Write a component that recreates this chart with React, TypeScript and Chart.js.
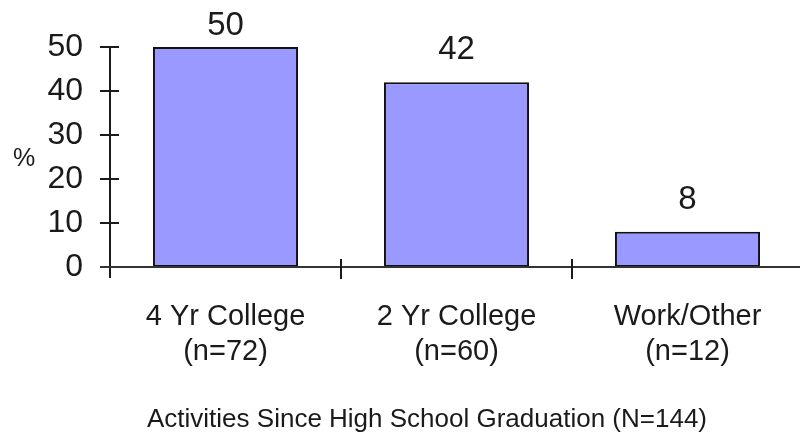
import React, { useEffect, useRef } from "react";
import { Chart, registerables } from "chart.js";

Chart.register(...registerables);

// Categories shown under the x axis (two lines each)
const categories: string[][] = [
  ["4 Yr College", "(n=72)"],
  ["2 Yr College", "(n=60)"],
  ["Work/Other", "(n=12)"],
];
// Percent of graduates in each activity
const percentages: number[] = [50, 42, 8];
// Y axis range and step
const yMin = 0;
const yMax = 50;
const yStep = 10;
const yAxisLabel = "%";
const xAxisCaption = "Activities Since High School Graduation (N=144)";

const FONT = "'Liberation Sans', Arial, Helvetica, sans-serif";
const INK = "#1a1a1a";

// Draws the crossing tick marks, axis lines, value labels and captions.
const axisDecor = {
  id: "axisDecor",
  afterDatasetsDraw(chart: any) {
    const { ctx, chartArea, scales } = chart;
    const x = scales.x;
    const y = scales.y;
    const left = chartArea.left;
    const bottom = y.getPixelForValue(yMin);
    const top = y.getPixelForValue(yMax);

    ctx.save();
    ctx.strokeStyle = INK;
    ctx.lineWidth = 2;

    // y axis line, running a little below zero
    ctx.beginPath();
    ctx.moveTo(left, top);
    ctx.lineTo(left, bottom + 11);
    ctx.stroke();

    // y ticks crossing the axis
    for (let v = yMin; v <= yMax; v += yStep) {
      const py = y.getPixelForValue(v);
      ctx.beginPath();
      ctx.moveTo(left - 10, py);
      ctx.lineTo(left + 9, py);
      ctx.stroke();
    }

    // x axis line to the right edge
    ctx.strokeStyle = "#333";
    ctx.beginPath();
    ctx.moveTo(left - 10, bottom);
    ctx.lineTo(chart.width, bottom);
    ctx.stroke();

    // x ticks on category boundaries
    ctx.strokeStyle = INK;
    for (let i = 1; i < categories.length; i++) {
      const px = (x.getPixelForValue(i - 1) + x.getPixelForValue(i)) / 2;
      ctx.beginPath();
      ctx.moveTo(px, bottom - 8);
      ctx.lineTo(px, bottom + 12);
      ctx.stroke();
    }

    // value labels above bars
    const meta = chart.getDatasetMeta(0);
    ctx.fillStyle = INK;
    ctx.font = `33px ${FONT}`;
    ctx.textAlign = "center";
    ctx.textBaseline = "alphabetic";
    meta.data.forEach((bar: any, i: number) => {
      const by = Math.max(bar.y - 23, 35);
      ctx.fillText(String(percentages[i]), bar.x, by);
    });

    // horizontal "%" label beside the y axis
    ctx.font = `25px ${FONT}`;
    ctx.textBaseline = "alphabetic";
    ctx.fillText(yAxisLabel, 24, (top + bottom) / 2 + 9);

    // caption under the category labels
    ctx.font = `26px ${FONT}`;
    ctx.fillText(xAxisCaption, 427, 427);
    ctx.restore();
  },
};

export default function App() {
  const canvasRef = useRef<HTMLCanvasElement | null>(null);

  useEffect(() => {
    if (!canvasRef.current) return;
    const chart = new Chart(canvasRef.current, {
      type: "bar",
      data: {
        labels: categories,
        datasets: [
          {
            data: percentages,
            backgroundColor: "#9999ff",
            borderColor: "#111",
            borderWidth: 2,
            borderSkipped: false,
            barPercentage: 0.628,
            categoryPercentage: 1,
          },
        ],
      },
      options: {
        responsive: false,
        animation: false,
        devicePixelRatio: 1,
        layout: { padding: { top: 47, left: 0, right: 0, bottom: 0 } },
        plugins: {
          legend: { display: false },
          tooltip: { enabled: false },
          title: { display: false },
        },
        scales: {
          x: {
            type: "category",
            grid: { display: false, drawTicks: false },
            border: { display: false },
            ticks: {
              color: INK,
              padding: 33,
              maxRotation: 0,
              autoSkip: false,
              font: { family: FONT, size: 29, lineHeight: 1.2 },
            },
            afterFit(scale: any) {
              scale.height = 169;
            },
          },
          y: {
            min: yMin,
            max: yMax,
            grid: { display: false, drawTicks: false },
            border: { display: false },
            ticks: {
              stepSize: yStep,
              color: INK,
              padding: 27,
              font: { family: FONT, size: 32 },
            },
            afterFit(scale: any) {
              scale.width = 110;
            },
          },
        },
      },
      plugins: [axisDecor],
    });
    return () => chart.destroy();
  }, []);

  return (
    <div
      style={{
        position: "fixed",
        left: 0,
        top: 0,
        width: 800,
        height: 436,
        overflow: "hidden",
        background: "#fff",
      }}
    >
      <canvas ref={canvasRef} width={803} height={436} style={{ display: "block" }} />
    </div>
  );
}
